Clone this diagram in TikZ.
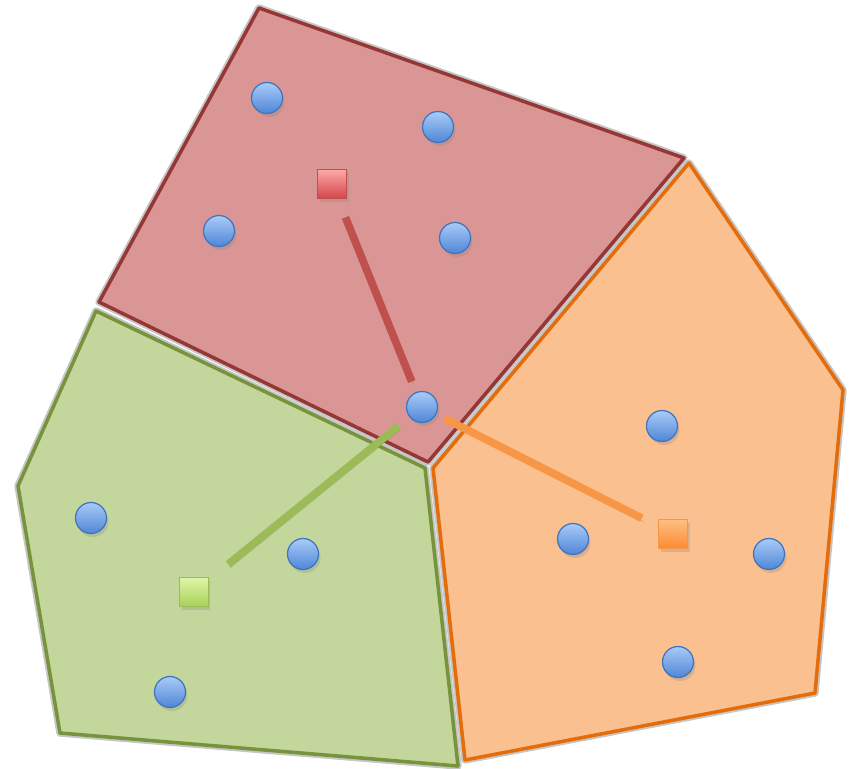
\documentclass[tikz,border=0pt]{standalone}
\usepackage{xcolor}
\usepackage{tikz}
\usetikzlibrary{shadows}

\definecolor{redfill}{HTML}{DA9694}
\definecolor{redline}{HTML}{953735}
\definecolor{redlink}{HTML}{C0504D}
\definecolor{greenfill}{HTML}{C3D69B}
\definecolor{greenline}{HTML}{77933C}
\definecolor{greenlink}{HTML}{9BBB59}
\definecolor{orangefill}{HTML}{FAC090}
\definecolor{orangeline}{HTML}{E46C0A}
\definecolor{orangelink}{HTML}{F79646}
\definecolor{ptop}{HTML}{A9CBF7}
\definecolor{pbot}{HTML}{4F86D6}
\definecolor{pline}{HTML}{3F74C0}

\begin{document}
\begin{tikzpicture}[
    x=0.02cm, y=-0.02cm,
    halo/.style={draw=gray!45, line width=4.2pt, line join=round},
    cell/.style={line width=2pt, line join=round},
    pt/.style={circle, draw=pline, line width=0.7pt, minimum size=0.62cm, inner sep=0pt,
               top color=ptop, bottom color=pbot,
               drop shadow={shadow xshift=0.04cm, shadow yshift=-0.07cm, opacity=0.25}},
    ctr/.style={rectangle, line width=0.9pt, minimum size=0.58cm, inner sep=0pt,
               drop shadow={shadow xshift=0.04cm, shadow yshift=-0.07cm, opacity=0.25}},
    link/.style={line width=4.4pt,
                 preaction={draw=black, opacity=0.12, transform canvas={xshift=0.04cm, yshift=-0.07cm}}},
]
\useasboundingbox (0,0) rectangle (852,768);

%% Cellules
\draw[halo] (259,8) -- (684,158) -- (428,462) -- (99,302) -- cycle;
\draw[halo] (96,311) -- (425,468) -- (458,766) -- (60,733) -- (18,486) -- cycle;
\draw[halo] (689,163) -- (843,390) -- (815,693) -- (465,760) -- (433,468) -- cycle;
\draw[cell, fill=redfill, draw=redline] (259,8) -- (684,158) -- (428,462) -- (99,302) -- cycle;
\draw[cell, fill=greenfill, draw=greenline] (96,311) -- (425,468) -- (458,766) -- (60,733) -- (18,486) -- cycle;
\draw[cell, fill=orangefill, draw=orangeline] (689,163) -- (843,390) -- (815,693) -- (465,760) -- (433,468) -- cycle;

%% Centres
\node[ctr, draw=redlink, top color={rgb,255:red,251;green,170;blue,168}, bottom color={rgb,255:red,213;green,67;blue,74}] (sq-r) at (332,184) {};
\node[ctr, draw=greenlink, top color={rgb,255:red,222;green,245;blue,165}, bottom color={rgb,255:red,168;green,209;blue,90}] (sq-g) at (194,592) {};
\node[ctr, draw=orangelink, top color={rgb,255:red,255;green,190;blue,132}, bottom color={rgb,255:red,251;green,139;blue,50}] (sq-o) at (673,534) {};

%% Points
\foreach \n/\x/\y in {p1/267/98, p2/438/127, p3/219/231, p4/455/238, p5/422/407,
                      p6/662/426, p7/91/518, p8/303/554, p9/573/539, p10/769/554,
                      p11/678/662, p12/170/692}
  \node[pt] (\n) at (\x,\y) {};

%% Liens
\draw[link, draw=redlink, shorten <=0.72cm, shorten >=0.55cm] (sq-r.center) -- (p5.center);
\draw[link, draw=greenlink, shorten <=0.88cm, shorten >=0.6cm] (sq-g.center) -- (p5.center);
\draw[link, draw=orangelink, shorten <=0.7cm, shorten >=0.5cm] (sq-o.center) -- (p5.center);

\end{tikzpicture}
\end{document}
